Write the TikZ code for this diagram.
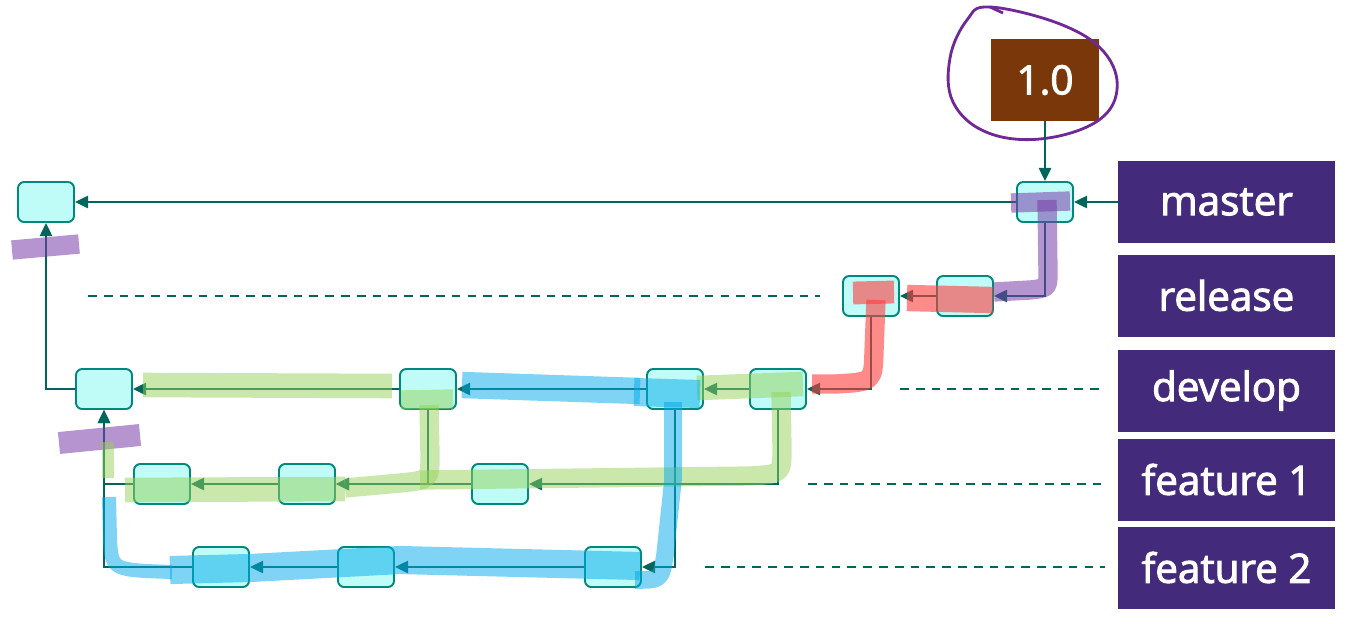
\documentclass[tikz,border=0pt]{standalone}
\usepackage{fontspec}
\usetikzlibrary{arrows.meta}
\newfontfamily\labelfont{Open Sans}[FakeBold=2.5]

\definecolor{linkteal}{RGB}{0,102,92}
\definecolor{boxteal}{RGB}{0,137,123}
\definecolor{boxfill}{RGB}{191,252,248}
\definecolor{branchpurple}{RGB}{67,42,122}
\definecolor{tagbrown}{RGB}{122,56,10}
\definecolor{ringpurple}{RGB}{112,40,150}
\definecolor{markgreen}{RGB}{150,210,90}
\definecolor{markblue}{RGB}{0,170,235}
\definecolor{markred}{RGB}{255,60,60}
\definecolor{markpurple}{RGB}{120,60,170}

\tikzset{
  commit/.style={draw=boxteal, fill=boxfill, line width=1.1pt, rounded corners=3.5pt,
    minimum width=1.12cm, minimum height=0.8cm, inner sep=0pt},
  branch/.style={fill=branchpurple, text=white, font=\labelfont\fontsize{23}{26}\selectfont,
    minimum width=4.34cm, minimum height=1.64cm, inner sep=0pt},
  tag/.style={fill=tagbrown, text=white, font=\labelfont\fontsize{23}{26}\selectfont,
    minimum width=2.16cm, minimum height=1.64cm, inner sep=0pt},
  link/.style={draw=linkteal, line width=1.1pt, -{Triangle[length=7.5pt,width=7pt]}},
  guide/.style={draw=linkteal, line width=1.1pt, dash pattern=on 5pt off 4pt},
  ring/.style={draw=ringpurple, line width=1.6pt},
  greenstroke/.style={draw=markgreen, opacity=0.5, line width=14pt, line join=round},
  bluestroke/.style={draw=markblue, opacity=0.5, line width=15pt, line join=round},
  redstroke/.style={draw=markred, opacity=0.6, line width=14pt, line join=round},
  purplestroke/.style={draw=markpurple, opacity=0.55, line width=11pt, line join=round}
}

\begin{document}
\begin{tikzpicture}[x=0.02cm, y=-0.02cm]

    \useasboundingbox (0,0) rectangle (1349,623);

    % branch labels
    \node[branch] (master)   at (1226.5,202)   {master};
    \node[branch] (release)  at (1226.5,295.5) {release};
    \node[branch] (develop)  at (1226.5,390.5) {develop};
    \node[branch] (feature1) at (1226.5,479.5) {feature 1};
    \node[branch] (feature2) at (1226.5,567.5) {feature 2};

    % tag
    \node[tag] (tag) at (1045,80) {1.0};
    \draw[ring] plot[smooth cycle, tension=0.65] coordinates
        {(990,7) (1060,24) (1104,52) (1117,90) (1096,122) (1040,139)
         (986,132) (953,102) (950,58) (967,20)};
    \draw[ring] (990,7) -- (1003,13); %hook

    % commits
    \node[commit] (m0)  at (46,202)  {};
    \node[commit] (m1)  at (1045,202) {};
    \node[commit] (r1)  at (871,296) {};
    \node[commit] (r2)  at (965,296) {};
    \node[commit] (d0)  at (104,389) {};
    \node[commit] (d1)  at (428,389) {};
    \node[commit] (d2)  at (675,389) {};
    \node[commit] (d3)  at (778,389) {};
    \node[commit] (f1a) at (162,484) {};
    \node[commit] (f1b) at (307,484) {};
    \node[commit] (f1c) at (500,484) {};
    \node[commit] (f2a) at (221,567) {};
    \node[commit] (f2b) at (366,567) {};
    \node[commit] (f2c) at (613,567) {};

    % rows
    \draw[guide] (88,296) -- (820,296);
    \draw[guide] (900,389) -- (1105,389);
    \draw[guide] (808,484) -- (1105,484);
    \draw[guide] (705,567) -- (1105,567);

    % history
    \draw[link] (master) -- (m1);
    \draw[link] (tag) -- (m1);
    \draw[link] (m1) -- (m0);
    \draw[link] (m1) |- (r2);
    \draw[link] (r2) -- (r1);
    \draw[link] (r1) |- (d3);
    \draw[link] (d3) -- (d2);
    \draw[link] (d2) -- (d1);
    \draw[link] (d1) -- (d0);
    \draw[link] (d0) -| (m0);
    \draw[link] (d3) |- (f1c);
    \draw[link] (f1c) -- (f1b);
    \draw[link] (d1) |- (f1b);
    \draw[link] (f1b) -- (f1a);
    \draw[link] (f1a) -| (d0);
    \draw[link] (d2) |- (f2c);
    \draw[link] (f2c) -- (f2b);
    \draw[link] (f2b) -- (f2a);
    \draw[link] (f2a) -| (d0);

    % highlighter marks
    \draw[purplestroke] (1011,203) -- (1070,201);
    \draw[purplestroke] (1047,200) -- (1048,272) .. controls (1048,288) .. (1030,290) -- (994,292);
    \draw[purplestroke] (12,250) -- (79,244);
    \draw[purplestroke, line width=12.5pt] (59,443) -- (140,435);

    \draw[redstroke, line width=13pt] (853,293) -- (894,292);
    \draw[redstroke, line width=15pt] (907,298) -- (993,300);
    \draw[redstroke, line width=11pt] (876,300) -- (874,352) .. controls (873,382) .. (835,384) -- (812,384);

    \draw[greenstroke] (143,385) -- (392,386);
    \draw[greenstroke, line width=11pt] (401,400) -- (453,399);
    \draw[greenstroke] (697,388) -- (803,384);
    \draw[greenstroke, line width=11pt] (781,392) -- (782,448) .. controls (782,474) .. (750,476) -- (420,480);
    \draw[greenstroke, line width=11pt] (429,405) -- (430,455) .. controls (430,480) .. (400,483) -- (345,488);
    \draw[greenstroke] (345,489) -- (125,490);
    \draw[greenstroke, line width=7pt] (108,442) -- (108,478);

    \draw[bluestroke] (462,385) -- (640,391);
    \draw[bluestroke, line width=16pt] (634,392) -- (700,394);
    \draw[bluestroke, line width=10pt] (673,402) -- (673,480) -- (665,555) .. controls (661,580) .. (635,580);
    \draw[bluestroke, line width=16pt] (640,566) -- (400,560) -- (250,568) -- (170,570);
    \draw[bluestroke, line width=8pt] (172,572) .. controls (112,570) .. (110,540) -- (109,497);

\end{tikzpicture}
\end{document}
